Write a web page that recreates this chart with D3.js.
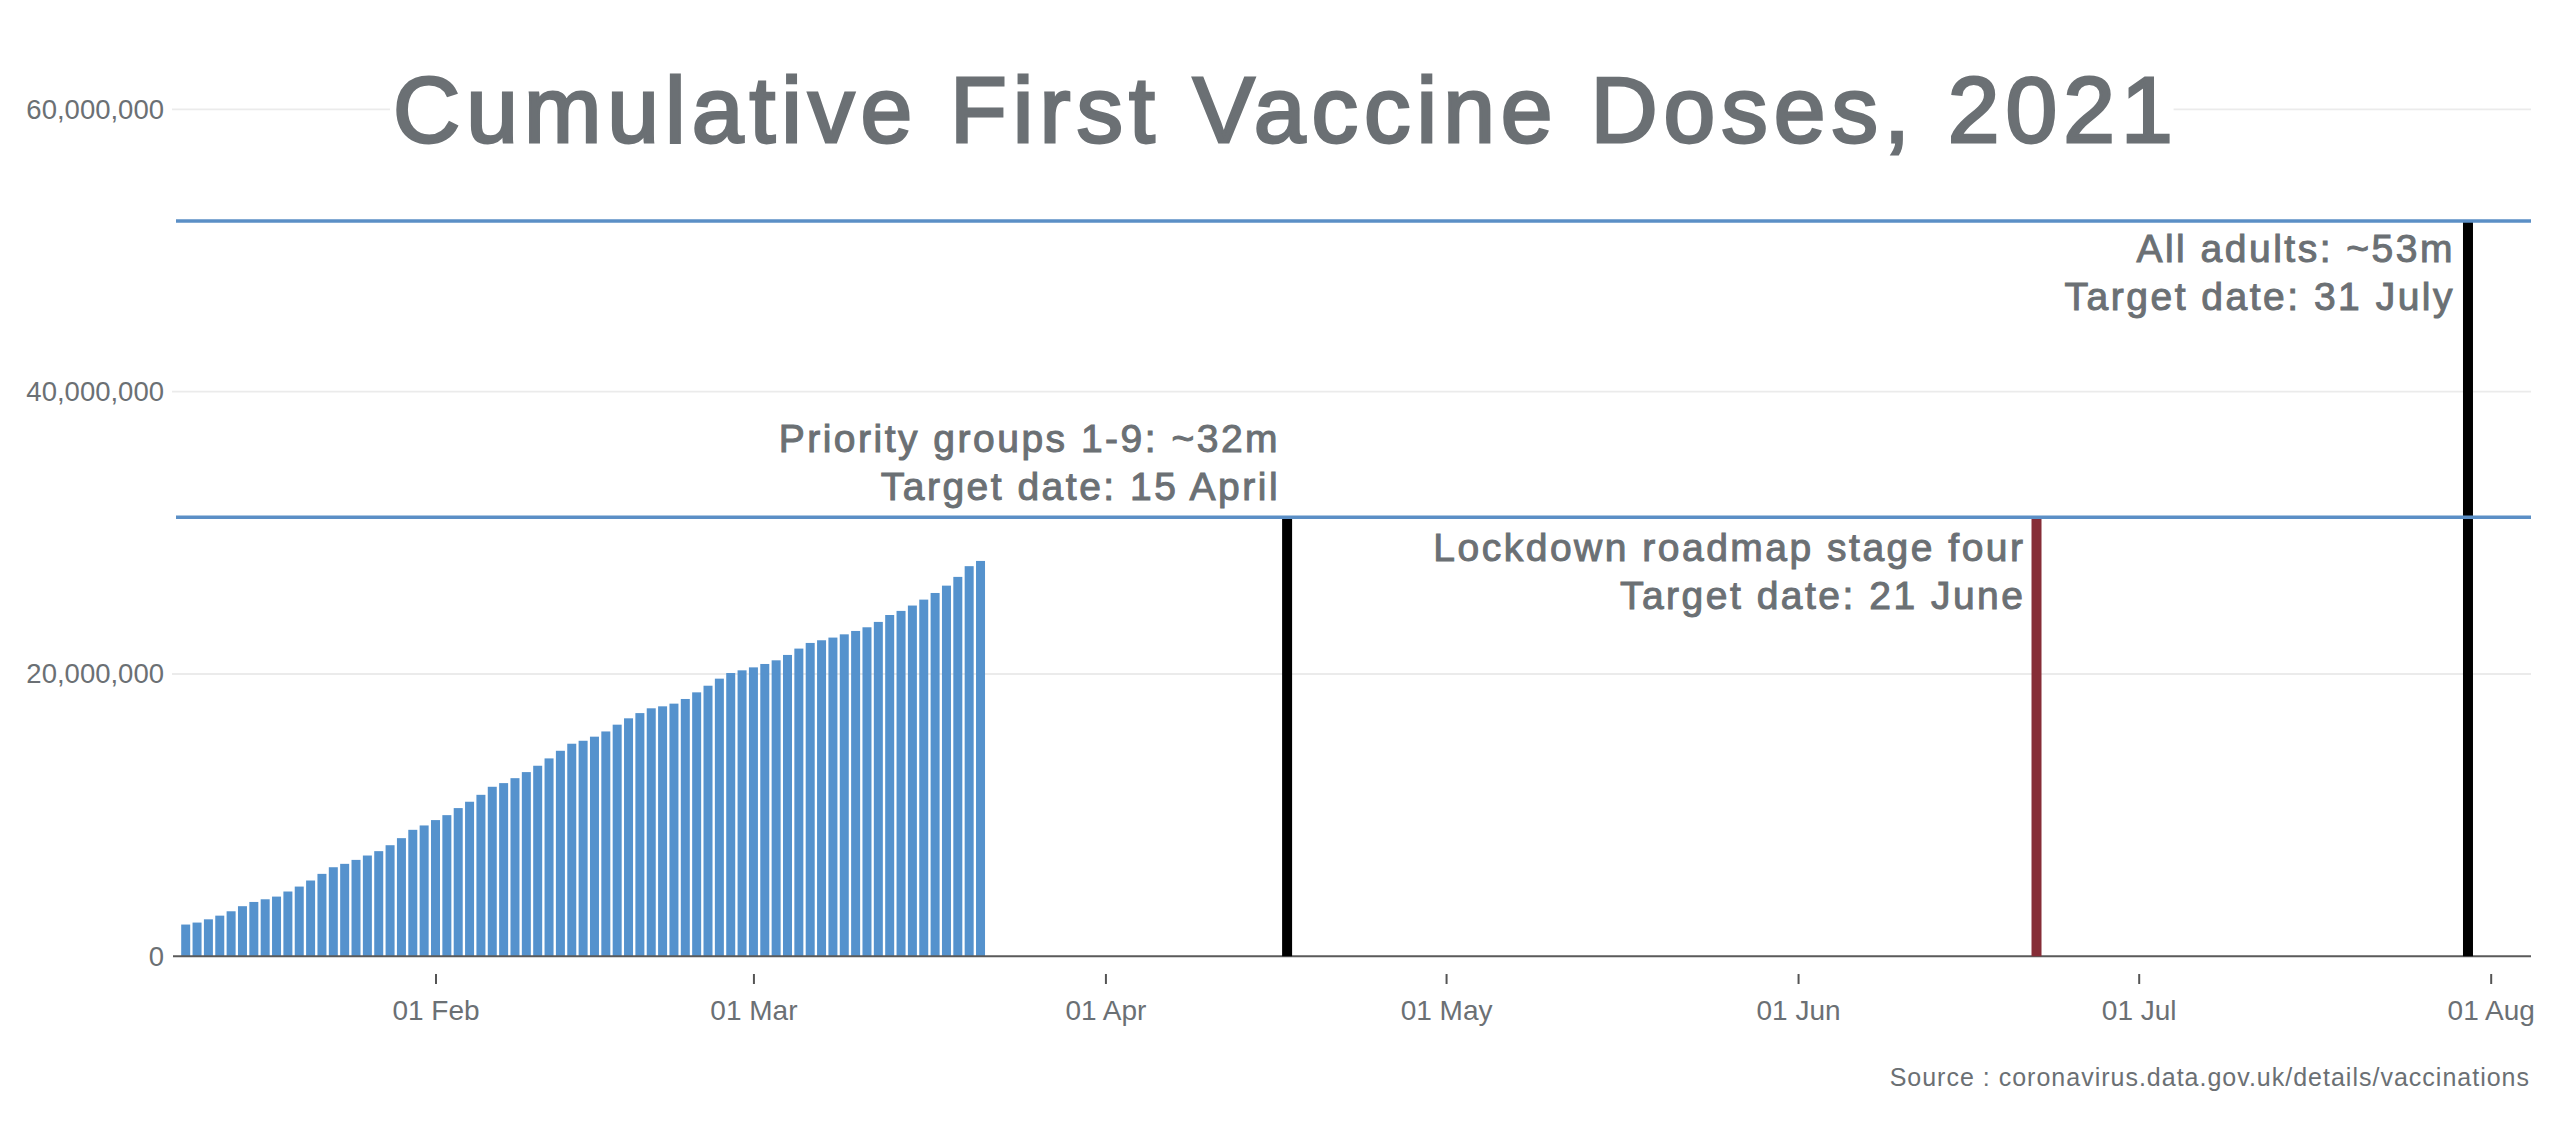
<!DOCTYPE html>
<html><head><meta charset="utf-8">
<script src="https://cdn.jsdelivr.net/npm/d3@7"></script>
<style>
html,body{margin:0;padding:0;background:#fff;}
svg{display:block;}
text{font-family:"Liberation Sans",Arial,sans-serif;}
</style></head><body>
<svg id="chart" width="2560" height="1135"></svg>
<script>
// ---------- DATA ----------
const dates = [
 "2021-01-10","2021-01-11","2021-01-12","2021-01-13","2021-01-14","2021-01-15","2021-01-16","2021-01-17",
 "2021-01-18","2021-01-19","2021-01-20","2021-01-21","2021-01-22","2021-01-23","2021-01-24","2021-01-25",
 "2021-01-26","2021-01-27","2021-01-28","2021-01-29","2021-01-30","2021-01-31","2021-02-01","2021-02-02",
 "2021-02-03","2021-02-04","2021-02-05","2021-02-06","2021-02-07","2021-02-08","2021-02-09","2021-02-10",
 "2021-02-11","2021-02-12","2021-02-13","2021-02-14","2021-02-15","2021-02-16","2021-02-17","2021-02-18",
 "2021-02-19","2021-02-20","2021-02-21","2021-02-22","2021-02-23","2021-02-24","2021-02-25","2021-02-26",
 "2021-02-27","2021-02-28","2021-03-01","2021-03-02","2021-03-03","2021-03-04","2021-03-05","2021-03-06",
 "2021-03-07","2021-03-08","2021-03-09","2021-03-10","2021-03-11","2021-03-12","2021-03-13","2021-03-14",
 "2021-03-15","2021-03-16","2021-03-17","2021-03-18","2021-03-19","2021-03-20","2021-03-21"
];
const firstDoses = [
 2250000,2390000,2620000,2880000,3190000,3550000,3850000,4040000,
 4230000,4590000,4940000,5370000,5840000,6310000,6550000,6830000,
 7140000,7450000,7870000,8370000,8960000,9270000,9650000,10000000,
 10500000,10950000,11440000,12010000,12270000,12620000,13050000,13500000,
 14020000,14560000,15060000,15270000,15560000,15930000,16410000,16860000,
 17230000,17570000,17710000,17900000,18230000,18700000,19170000,19670000,
 20070000,20260000,20470000,20710000,20970000,21350000,21800000,22200000,
 22390000,22580000,22810000,23050000,23310000,23690000,24180000,24470000,
 24850000,25270000,25740000,26260000,26880000,27640000,28010000
];
const yTickValues = [0, 20000000, 40000000, 60000000];
const xTickDates = ["2021-02-01","2021-03-01","2021-04-01","2021-05-01","2021-06-01","2021-07-01","2021-08-01"];
const targetLevels = [31100000, 52100000];
const targetDates = ["2021-04-17","2021-06-22","2021-07-30"];
const targetDateLevels = [31100000, 31100000, 52100000];
const targetLabels = [
 ["Priority groups 1-9: ~32m","Target date: 15 April"],
 ["Lockdown roadmap stage four","Target date: 21 June"],
 ["All adults: ~53m","Target date: 31 July"]
];
const titleText = "Cumulative First Vaccine Doses, 2021";
const sourceText = "Source : coronavirus.data.gov.uk/details/vaccinations";

// ---------- LAYOUT / STYLE ----------
const textColor = "#6b7074";
const barColor = "#5592cd";
const levelColor = "#5b8fc6";
const targetColors = ["#000000", "#862d37", "#000000"];
const labelDx = [-7, -11, -13];
const labelFirstDy = [-65, 44, 41];
const labelLineGap = 48;
const plotLeft = 172, plotRight = 2531;

const parse = d3.utcParse("%Y-%m-%d");
const svg = d3.select("#chart");

const y = d3.scaleLinear().domain([0, 60000000]).range([956.3, 109.4]);
const xRef = d3.scaleUtc().domain([parse("2021-02-01"), parse("2021-07-01")]).range([435.5, 2138.7]);
const x = d3.scaleUtc().domain([xRef.invert(plotLeft), xRef.invert(plotRight)]).range([plotLeft, plotRight]);

// gridlines
svg.append("g").selectAll("line").data(yTickValues.filter(v => v > 0)).join("line")
  .attr("x1", plotLeft).attr("x2", plotRight)
  .attr("y1", d => y(d)).attr("y2", d => y(d))
  .attr("stroke", "#ebebeb").attr("stroke-width", 1.8);

// y axis
const yAxis = svg.append("g").attr("transform", `translate(${plotLeft},0)`)
  .call(d3.axisLeft(y).tickValues(yTickValues).tickFormat(d3.format(",")).tickSize(0).tickPadding(8));
yAxis.select(".domain").remove();
yAxis.selectAll("text").attr("fill", textColor).style("font-size", "27.5px").style("font-family", '"Liberation Sans",Arial,sans-serif');

// title with white backing
const titleG = svg.append("g");
const titleBg = titleG.append("rect").attr("fill", "#fff");
const title = titleG.append("text").attr("x", 393).attr("y", 142)
  .attr("fill", textColor).attr("stroke", textColor).attr("stroke-width", 2.8)
  .style("font-size", "93px").style("letter-spacing", "6px").text(titleText);
const tb = title.node().getBBox();
titleBg.attr("x", tb.x - 3).attr("y", tb.y).attr("width", tb.width - 2).attr("height", tb.height);

// bars
svg.append("g").selectAll("rect").data(dates.map((d, i) => ({d: parse(d), v: firstDoses[i]}))).join("rect")
  .attr("x", d => x(d.d) - 4.5).attr("width", 9)
  .attr("y", d => y(d.v)).attr("height", d => y(0) - y(d.v))
  .attr("fill", barColor);

// baseline
svg.append("line").attr("x1", plotLeft + 1).attr("x2", plotRight).attr("y1", y(0)).attr("y2", y(0))
  .attr("stroke", "#5a5a5a").attr("stroke-width", 2);

// x axis
const xAxis = svg.append("g").attr("transform", "translate(0,974)")
  .call(d3.axisBottom(x).tickValues(xTickDates.map(parse)).tickFormat(d3.utcFormat("%d %b")).tickSize(10).tickPadding(16));
xAxis.select(".domain").remove();
xAxis.selectAll(".tick line").attr("stroke", "#555").attr("stroke-width", 2);
xAxis.selectAll("text").attr("fill", textColor).style("font-size", "28px").style("font-family", '"Liberation Sans",Arial,sans-serif');

// target vertical lines
svg.append("g").selectAll("line").data(targetDates).join("line")
  .attr("x1", d => x(parse(d))).attr("x2", d => x(parse(d)))
  .attr("y1", y(0)).attr("y2", (d, i) => y(targetDateLevels[i]))
  .attr("stroke", (d, i) => targetColors[i]).attr("stroke-width", 10);

// horizontal target levels
svg.append("g").selectAll("line").data(targetLevels).join("line")
  .attr("x1", plotLeft + 4).attr("x2", plotRight)
  .attr("y1", d => y(d)).attr("y2", d => y(d))
  .attr("stroke", levelColor).attr("stroke-width", 3.5);

// annotations
targetLabels.forEach((lines, i) => {
  const tx = x(parse(targetDates[i])) + labelDx[i];
  const ty = y(targetDateLevels[i]) + labelFirstDy[i];
  const t = svg.append("text").attr("text-anchor", "end").attr("fill", textColor)
    .attr("stroke", textColor).attr("stroke-width", 1.0)
    .style("font-size", "39px").style("letter-spacing", "2.5px");
  lines.forEach((s, j) => {
    t.append("tspan").attr("x", tx).attr("y", ty + j * labelLineGap).text(s);
  });
});

// source
svg.append("text").attr("x", 2530).attr("y", 1086).attr("text-anchor", "end")
  .attr("fill", textColor).style("font-size", "25px").style("letter-spacing", "1px").text(sourceText);
</script>
</body></html>
